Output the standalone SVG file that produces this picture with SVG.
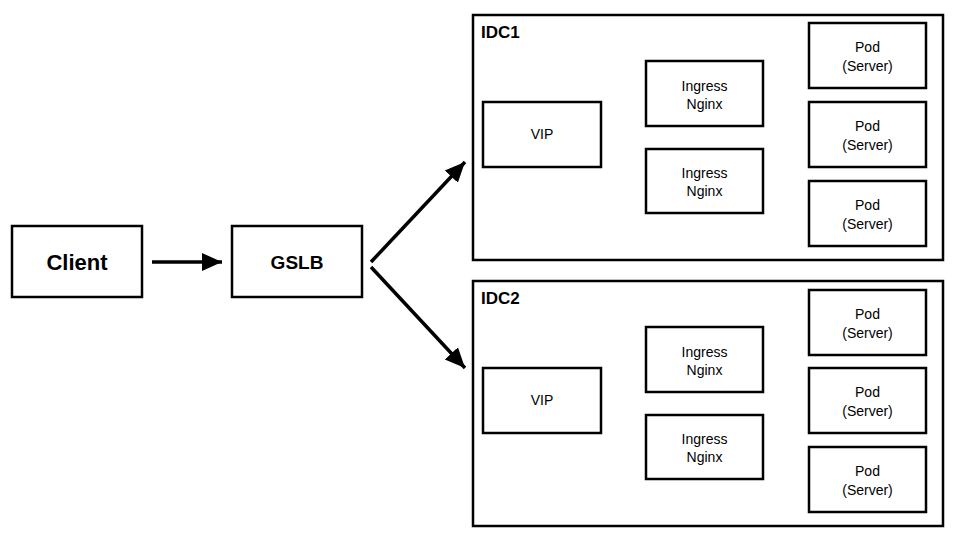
<svg xmlns="http://www.w3.org/2000/svg" width="960" height="537" viewBox="0 0 960 537">
<defs>
<style>
.box{fill:#fff;stroke:#000;stroke-width:2.5}
.t{font-family:"Liberation Sans",Arial,sans-serif;fill:#000;text-anchor:middle}
.s{font-size:14px}
.lbl{font-family:"Liberation Sans",Arial,sans-serif;font-size:17px;font-weight:bold;fill:#000}
.conn{stroke:#000;stroke-width:3.5;fill:none}
</style>
<marker id="ah" markerUnits="userSpaceOnUse" markerWidth="22" markerHeight="22" viewBox="0 0 22 22" refX="20" refY="11" orient="auto">
<path d="M0,2 L20,11 L0,20 Z" fill="#000"/>
</marker>
</defs>
<rect width="960" height="537" fill="#fff"/>
<g id="client"><rect class="box" x="12" y="226" width="130" height="71"/><text class="t" x="77" y="270" font-size="22" font-weight="bold">Client</text></g>
<g id="gslb"><rect class="box" x="232" y="226" width="130" height="71"/><text class="t" x="297" y="269" font-size="19" font-weight="bold">GSLB</text></g>
<g id="idc1">
<rect class="box" x="473" y="15" width="470" height="245"/>
<text class="lbl" x="481" y="38">IDC1</text>
</g>
<g id="idc1-vip"><rect class="box" x="483" y="102" width="118" height="65"/><text class="t s" x="542" y="139">VIP</text></g>
<g id="idc1-ingress1"><rect class="box" x="646" y="61" width="117" height="65"/><text class="t s" x="704.5" y="91">Ingress</text><text class="t s" x="704.5" y="109">Nginx</text></g>
<g id="idc1-ingress2"><rect class="box" x="646" y="149" width="117" height="64"/><text class="t s" x="704.5" y="178">Ingress</text><text class="t s" x="704.5" y="196">Nginx</text></g>
<g id="idc1-pod1"><rect class="box" x="809" y="23" width="117" height="65"/><text class="t s" x="867.5" y="52">Pod</text><text class="t s" x="867.5" y="71">(Server)</text></g>
<g id="idc1-pod2"><rect class="box" x="809" y="102" width="117" height="65"/><text class="t s" x="867.5" y="131">Pod</text><text class="t s" x="867.5" y="150">(Server)</text></g>
<g id="idc1-pod3"><rect class="box" x="809" y="181" width="117" height="65"/><text class="t s" x="867.5" y="210">Pod</text><text class="t s" x="867.5" y="229">(Server)</text></g>
<g id="idc2">
<rect class="box" x="473" y="281" width="470" height="245"/>
<text class="lbl" x="481" y="304">IDC2</text>
</g>
<g id="idc2-vip"><rect class="box" x="483" y="368" width="118" height="65"/><text class="t s" x="542" y="405">VIP</text></g>
<g id="idc2-ingress1"><rect class="box" x="646" y="327" width="117" height="65"/><text class="t s" x="704.5" y="357">Ingress</text><text class="t s" x="704.5" y="375">Nginx</text></g>
<g id="idc2-ingress2"><rect class="box" x="646" y="415" width="117" height="64"/><text class="t s" x="704.5" y="444">Ingress</text><text class="t s" x="704.5" y="462">Nginx</text></g>
<g id="idc2-pod1"><rect class="box" x="809" y="290" width="117" height="65"/><text class="t s" x="867.5" y="319">Pod</text><text class="t s" x="867.5" y="338">(Server)</text></g>
<g id="idc2-pod2"><rect class="box" x="809" y="368" width="117" height="65"/><text class="t s" x="867.5" y="397">Pod</text><text class="t s" x="867.5" y="416">(Server)</text></g>
<g id="idc2-pod3"><rect class="box" x="809" y="447" width="117" height="65"/><text class="t s" x="867.5" y="476">Pod</text><text class="t s" x="867.5" y="495">(Server)</text></g>
<g id="connectors">
<line class="conn" x1="152" y1="262" x2="222" y2="262" marker-end="url(#ah)"/>
<line class="conn" x1="371" y1="262" x2="465" y2="162" marker-end="url(#ah)"/>
<line class="conn" x1="371" y1="267" x2="465" y2="368" marker-end="url(#ah)"/>
</g>
</svg>
